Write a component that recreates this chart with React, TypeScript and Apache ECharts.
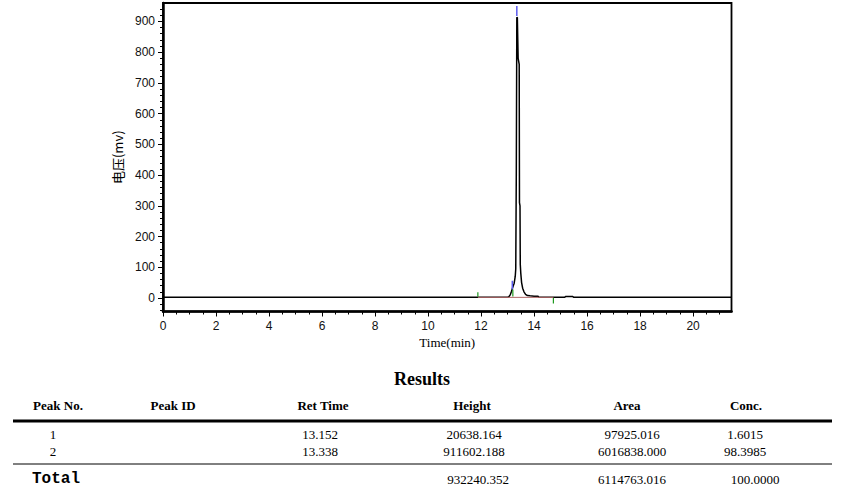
import React, { useEffect, useRef } from "react";
import * as echarts from "echarts";

// ---------- chromatogram data (time in min, signal in mV) ----------
const traceTime = [
  0, 2, 4, 6, 8, 10, 11.88, 12.5, 13.0, 13.05, 13.1, 13.15, 13.2, 13.25, 13.29, 13.31,
  13.33, 13.35, 13.37, 13.4, 13.44, 13.45, 13.47, 13.48, 13.5, 13.53, 13.57, 13.62,
  13.68, 13.75, 13.85, 14.0, 14.15, 14.18, 14.73, 15.15, 15.2, 15.45, 15.5, 17, 19, 21.45,
];
const traceMv = [
  2, 2, 2, 2, 2, 2, 2, 2, 2, 4, 10, 22, 36, 48, 70, 95,
  400, 914, 912, 780, 760, 310, 300, 110, 80, 50, 32, 20,
  12, 8, 7, 6, 6, 2, 2, 2, 5, 5, 2, 2, 2, 2,
];

// peak markers
const apexMarkTime = [13.18, 13.35];
const apexMarkLow = [28, 918];
const apexMarkHigh = [56, 950];
const boundTime = [11.88, 13.2, 14.73];
const boundLow = [4, 5, -18];
const boundHigh = [19, 28, 1];
const integBaseline = [2, 2];

// axes
const xMajor = [0, 2, 4, 6, 8, 10, 12, 14, 16, 18, 20];
const xMinor = [1, 3, 5, 7, 9, 11, 13, 15, 17, 19, 21, 0.5, 1.5, 2.5, 3.5, 4.5, 5.5, 6.5, 7.5, 8.5, 9.5, 10.5, 11.5, 12.5, 13.5, 14.5, 15.5, 16.5, 17.5, 18.5, 19.5, 20.5];
const yMajor = [0, 100, 200, 300, 400, 500, 600, 700, 800, 900];
const yMinor = [-40, -20, 20, 40, 60, 80, 120, 140, 160, 180, 220, 240, 260, 280, 320, 340, 360, 380, 420, 440, 460, 480, 520, 540, 560, 580, 620, 640, 660, 680, 720, 740, 760, 780, 820, 840, 860, 880, 920, 940];

// ---------- results table ----------
const tableTitle = "Results";
const headers = ["Peak No.", "Peak ID", "Ret Time", "Height", "Area", "Conc."];
const peakNos = ["1", "2"];
const retTimes = ["13.152", "13.338"];
const heights = ["20638.164", "911602.188"];
const areas = ["97925.016", "6016838.000"];
const concs = ["1.6015", "98.3985"];
const totalLabel = "Total";
const totals = ["932240.352", "6114763.016", "100.0000"];

export default function App() {
  const ref = useRef<HTMLDivElement>(null);
  useEffect(() => {
    if (!ref.current) return;
    const chart = echarts.init(ref.current, undefined, { renderer: "svg" });

    const tracePts = traceTime.map((t, i) => [t, traceMv[i]]);
    const markerSeries: any[] = [];
    apexMarkTime.forEach((t, i) => {
      markerSeries.push({
        type: "line", silent: true, showSymbol: false, symbol: "none",
        data: [[t, apexMarkLow[i]], [t, apexMarkHigh[i]]],
        lineStyle: { color: "#5a5aee", width: 1.5 }, z: 4,
      });
    });
    boundTime.forEach((t, i) => {
      markerSeries.push({
        type: "line", silent: true, showSymbol: false, symbol: "none",
        data: [[t, boundLow[i]], [t, boundHigh[i]]],
        lineStyle: { color: "#1f9a1f", width: 1.2 }, z: 4,
      });
    });
    markerSeries.push({
      type: "line", silent: true, showSymbol: false, symbol: "none",
      data: [[boundTime[0], integBaseline[0]], [boundTime[2], integBaseline[1]]],
      lineStyle: { color: "#b06868", width: 1 }, z: 4,
    });

    const serif = '"Liberation Serif", "Times New Roman", serif';
    const rowY = [434, 451];
    const graphics: any[] = [];
    const txt = (text: string, x: number, y: number, font: string, align = "center") => ({
      type: "text", x, y, silent: true,
      style: { text, font, fill: "#000", align, verticalAlign: "middle" },
    });
    graphics.push(txt(tableTitle, 422, 379, `bold 18px ${serif}`));
    const headerX = [58, 173, 323, 472, 627, 746];
    headers.forEach((h, i) => graphics.push(txt(h, headerX[i], 405, `bold 13px ${serif}`)));
    graphics.push({ type: "line", silent: true, shape: { x1: 13, y1: 421, x2: 832, y2: 421 }, style: { stroke: "#000", lineWidth: 3 } });
    graphics.push({ type: "line", silent: true, shape: { x1: 13, y1: 464, x2: 832, y2: 464 }, style: { stroke: "#000", lineWidth: 1 } });
    const rowFont = `13px ${serif}`;
    peakNos.forEach((v, i) => {
      graphics.push(txt(v, 53, rowY[i], rowFont));
      graphics.push(txt(retTimes[i], 320, rowY[i], rowFont));
      graphics.push(txt(heights[i], 474, rowY[i], rowFont));
      graphics.push(txt(areas[i], 632, rowY[i], rowFont));
      graphics.push(txt(concs[i], 745, rowY[i], rowFont));
    });
    graphics.push(txt(totalLabel, 32, 479, 'bold 16px "Liberation Mono", "Courier New", monospace', "left"));
    const totalX = [478, 632, 755];
    totals.forEach((v, i) => graphics.push(txt(v, totalX[i], 479, rowFont)));

    const sans = '"Liberation Sans", Arial, sans-serif';
    chart.setOption({
      animation: false,
      backgroundColor: "#fff",
      grid: { left: 163, right: 117.5, top: 3, bottom: 187.5, show: true, borderColor: "#000", borderWidth: 1.8 },
      xAxis: [
        {
          type: "value", min: 0, max: 21.45, position: "bottom",
          name: "Time(min)", nameLocation: "middle", nameGap: 24,
          nameTextStyle: { fontFamily: serif, fontSize: 13, color: "#000" },
          axisLine: { show: true, onZero: false, lineStyle: { color: "#000", width: 2.5 } },
          axisTick: { show: true, length: 5, customValues: xMajor, lineStyle: { color: "#000", width: 1 } },
          axisLabel: { customValues: xMajor, margin: 8, fontFamily: sans, fontSize: 12, color: "#111" },
          splitLine: { show: false },
        },
        {
          type: "value", min: 0, max: 21.45, position: "bottom",
          axisLine: { show: false, onZero: false },
          axisTick: { show: true, length: 3, customValues: xMinor, lineStyle: { color: "#000", width: 1 } },
          axisLabel: { show: false },
          splitLine: { show: false },
        },
      ],
      yAxis: [
        {
          type: "value", min: -44, max: 960, position: "left",
          name: "电压(mv)", nameLocation: "middle", nameGap: 33,
          nameTextStyle: { fontFamily: '"Noto Sans CJK SC", serif', fontSize: 13, color: "#000" },
          axisLine: { show: true, onZero: false, lineStyle: { color: "#000", width: 2.5 } },
          axisTick: { show: true, length: 5, customValues: yMajor, lineStyle: { color: "#000", width: 1 } },
          axisLabel: { customValues: yMajor, margin: 8, fontFamily: sans, fontSize: 12, color: "#111" },
          splitLine: { show: false },
        },
        {
          type: "value", min: -44, max: 960, position: "left",
          axisLine: { show: false, onZero: false },
          axisTick: { show: true, length: 3, customValues: yMinor, lineStyle: { color: "#000", width: 1 } },
          axisLabel: { show: false },
          splitLine: { show: false },
        },
      ],
      series: [
        {
          type: "line", data: tracePts, showSymbol: false, symbol: "none", silent: true,
          lineStyle: { color: "#000", width: 1.5 }, z: 3,
        },
        ...markerSeries,
      ],
      graphic: graphics,
    });
    return () => chart.dispose();
  }, []);
  return <div ref={ref} style={{ position: "fixed", left: 0, top: 0, width: 849, height: 499, background: "#fff" }} />;
}
